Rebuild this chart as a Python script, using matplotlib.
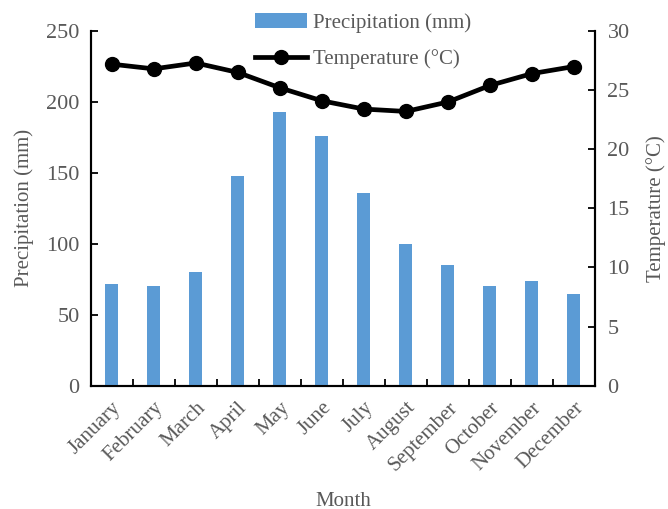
import numpy as np
import matplotlib.pyplot as plt

plt.rcParams['font.family'] = ['Liberation Serif', 'DejaVu Serif']

months = ['January', 'February', 'March', 'April', 'May', 'June', 'July',
          'August', 'September', 'October', 'November', 'December']
precip = [72, 70, 80, 148, 193, 176, 136, 100, 85, 70, 74, 65]
temp = [27.2, 26.8, 27.3, 26.5, 25.2, 24.1, 23.4, 23.2, 24.0, 25.4, 26.4, 27.0]

grey = '#595959'
x = np.arange(len(months))

fig = plt.figure(figsize=(6.68, 5.09), dpi=100)
ax = fig.add_axes([0.1358, 0.2422, 0.7549, 0.6968])
ax2 = ax.twinx()

bars = ax.bar(x, precip, width=0.31, color='#5B9BD5', label='Precipitation (mm)', zorder=2)
line, = ax2.plot(x, temp, color='black', lw=3.4, marker='o', ms=10,
                 label='Temperature (°C)', zorder=3)

ax.set_xlim(-0.5, 11.5)
ax.set_ylim(0, 250)
ax2.set_ylim(0, 30)
ax.set_yticks(np.arange(0, 251, 50))
ax2.set_yticks(np.arange(0, 31, 5))

# category ticks sit between the bars
ax.set_xticks(x)
ax.set_xticklabels(months, rotation=45, ha='right', rotation_mode='anchor')
ax.tick_params(axis='x', length=0, labelsize=15, labelcolor=grey, pad=9)
ax.set_xticks(np.arange(-0.5, 12, 1), minor=True)
ax.tick_params(axis='x', which='minor', direction='in', length=5, width=1.3)
ax.tick_params(axis='y', direction='in', length=5, width=1.3, labelsize=16, labelcolor=grey, pad=8)
ax2.tick_params(axis='y', direction='in', length=5, width=1.3, labelsize=16, labelcolor=grey, pad=9)

for a in (ax, ax2):
    a.spines['top'].set_visible(False)
    for s in ('left', 'right', 'bottom'):
        a.spines[s].set_linewidth(1.5)

ax.set_ylabel('Precipitation (mm)', fontsize=15, color=grey, labelpad=9)
ax2.set_ylabel('Temperature (°C)', fontsize=15, color=grey, labelpad=12)
ax.set_xlabel('Month', fontsize=15, color=grey, labelpad=12)

leg = ax.legend([bars, line], ['Precipitation (mm)', 'Temperature (°C)'],
                loc='center', bbox_to_anchor=(0.54, 0.972), frameon=False,
                fontsize=15, handlelength=2.5, handletextpad=0.3, labelspacing=0.8)
for t in leg.get_texts():
    t.set_color(grey)
ax.set_zorder(ax2.get_zorder() + 1)
ax.patch.set_visible(False)

fig.savefig('out.png', dpi=100)
